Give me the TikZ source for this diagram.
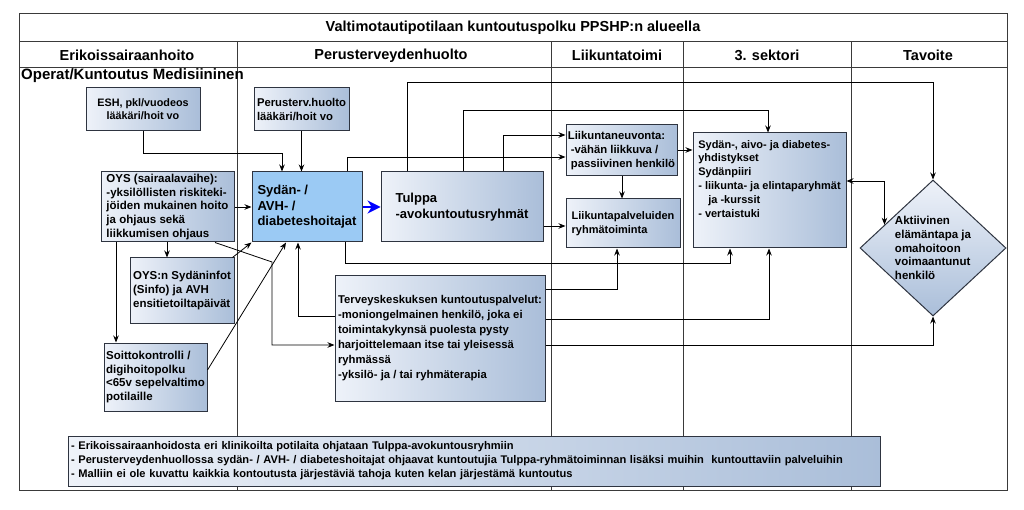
\documentclass[tikz,border=0pt]{standalone}
\usepackage{fontspec}
\setmainfont{Liberation Sans}
\usetikzlibrary{shapes.geometric,arrows.meta,calc}
\definecolor{bxL}{HTML}{EEF2F9}
\definecolor{bxR}{HTML}{AABED9}
\definecolor{sydc}{HTML}{9BCAF4}
\definecolor{framec}{HTML}{3A3A3A}
\definecolor{bord}{HTML}{2E3440}
\newcommand{\fs}[2]{\fontsize{#1}{#2}\selectfont}
\begin{document}
\begin{tikzpicture}[x=1pt,y=-1pt,
  box/.style={draw=bord, line width=1pt, left color=bxL, right color=bxR,
    font=\bfseries\fs{11.5}{13.8}, align=left, inner sep=0pt, anchor=center},
  hdr/.style={font=\bfseries\fs{14.5}{16}, inner sep=0pt},
  frm/.style={draw=framec, line width=1pt},
  arr/.style={draw=black, line width=0.8pt, -{Stealth[length=7pt,width=5.5pt]}},
  ln/.style={draw=black, line width=0.8pt}
]
\useasboundingbox (0,0) rectangle (1024,510);
% frame
\draw[frm] (19,14) rectangle (1007,490);
\draw[frm] (19,42) -- (1007,42);
\draw[frm] (19,68) -- (1007,68);
\foreach \xx in {237,551,683,851} \draw[frm] (\xx,42) -- (\xx,490);
% titles
\node[hdr] (title) at (513,28) {Valtimotautipotilaan kuntoutuspolku PPSHP:n alueella};
\node[hdr] (h1) at (127,55.5) {Erikoissairaanhoito};
\node[hdr] (h2) at (391,55.5) {Perusterveydenhuolto};
\node[hdr] (h3) at (617,55.5) {Liikuntatoimi};
\node[hdr] (h4) at (767,55.5) {3. sektori};
\node[hdr] (h5) at (928,55.5) {Tavoite};
\node[hdr, anchor=west, font=\bfseries\fs{15}{16}] (h6) at (21,76) {Operat/Kuntoutus Medisiininen};
% nodes
\node[box, align=center, font=\bfseries\fs{10.8}{13}, minimum width=114pt, minimum height=43pt] (esh) at (143,109.5) {ESH, pkl/vuodeos\\lääkäri/hoit vo};
\node[box, font=\bfseries\fs{11.3}{13.5}, minimum width=95pt, minimum height=43pt] (per) at (301.5,109.5) {Perusterv.huolto\\lääkäri/hoit vo};
\node[box, minimum width=133pt, minimum height=70pt] (oys) at (167.5,207) {OYS (sairaalavaihe):\\-yksilöllisten riskiteki-\\jöiden mukainen hoito\\ja ohjaus sekä\\liikkumisen ohjaus};
\node[box, shading=none, left color=sydc, right color=sydc, font=\bfseries\fs{13}{15.6}, minimum width=110pt, minimum height=70pt] (syd) at (307,207) {Sydän- /\\AVH- /\\diabeteshoitajat};
\node[box, font=\bfseries\fs{13}{15.6}, minimum width=162pt, minimum height=70pt] (tul) at (462,207) {Tulppa\\-avokuntoutusryhmät};
\node[box, font=\bfseries\fs{11.3}{13.8}, minimum width=111pt, minimum height=51pt] (lneu) at (621.5,150.5) {Liikuntaneuvonta:\\\hspace*{3pt}-vähän liikkuva /\\\hspace*{3pt}passiivinen henkilö};
\node[box, font=\bfseries\fs{11}{13.8}, minimum width=114pt, minimum height=49pt] (lpal) at (623,223.5) {Liikuntapalveluiden\\ryhmätoiminta};
\node[box, font=\bfseries\fs{11}{13.8}, minimum width=153pt, minimum height=115pt] (sek) at (769.5,190.5) {Sydän-, aivo- ja diabetes-\\yhdistykset\\Sydänpiiri\\- liikunta- ja elintaparyhmät\\\hspace*{10pt}ja -kurssit\\- vertaistuki\\[10pt]};
\node[box, shape=diamond, top color=bxL, bottom color=bxR, shape aspect=1.07, minimum width=146pt, minimum height=136pt] (dia) at (933,248) {Aktiivinen\\elämäntapa ja\\omahoitoon\\voimaantunut\\henkilö};
\node[box, minimum width=104pt, minimum height=65pt] (sinfo) at (182,290.5) {OYS:n Sydäninfot\\(Sinfo) ja AVH\\ensitietoiltapäivät};
\node[box, minimum width=103pt, minimum height=68pt] (soit) at (155.5,377) {Soittokontrolli /\\digihoitopolku\\<65v sepelvaltimo\\potilaille};
\node[box, font=\bfseries\fs{11.3}{15}, minimum width=210pt, minimum height=125pt] (ter) at (440,338.5) {Terveyskeskuksen kuntoutuspalvelut:\\-moniongelmainen henkilö, joka ei\\toimintakykynsä puolesta pysty\\harjoittelemaan itse tai yleisessä\\ryhmässä\\-yksilö- ja / tai ryhmäterapia};
\node[box, font=\bfseries\fs{11.1}{14}, inner xsep=3pt, text width=806pt, minimum height=50pt] (note) at (474,461) {- Erikoissairaanhoidosta eri klinikoilta potilaita ohjataan Tulppa-avokuntousryhmiin\\- Perusterveydenhuollossa sydän- / AVH- / diabeteshoitajat ohjaavat kuntoutujia Tulppa-ryhmätoiminnan lisäksi muihin\ \ kuntouttaviin palveluihin\\- Malliin ei ole kuvattu kaikkia kontoutusta järjestäviä tahoja kuten kelan järjestämä kuntoutus};
% connectors
\draw[arr] (esh.south) |- (282,153) -- (syd.north -| 282,0);
\draw[arr] (per.south) -- (syd.north -| per.south);
\draw[arr] (oys.east) -- (syd.west);
\draw[arr] (oys.south -| 167,0) -- (sinfo.north -| 167,0);
\draw[arr] (oys.south -| 116,0) -- (soit.north -| 116,0);
\draw[arr] ([xshift=-2pt]sinfo.north east) -- (syd.south west);
\draw[arr] (soit.east |- 0,370) -- (syd.south -| 286,0);
\draw[arr] (oys.south -| 215,0) -- (272,262) |- (ter.west |- 0,345);
\draw[arr] (ter.west |- 0,316) -| (syd.south -| 298,0);
\draw[draw=blue, line width=1.3pt, -{Stealth[length=13pt,width=13pt]}, blue] (syd.east) -- (tul.west);
\draw[arr] (syd.north -| 347,0) |- (lneu.west |- 0,157);
\draw[arr] (tul.north -| 503,0) |- (lneu.west |- 0,135);
\draw[arr] (tul.north -| 407,0) |- (933,82) -- (dia.north);
\draw[arr] (tul.north -| 463,0) |- (768,110) -- (sek.north -| 768,0);
\draw[arr] (tul.east |- 0,226) -- (lpal.west |- 0,226);
\draw[arr] (lneu.south -| 622,0) -- (lpal.north -| 622,0);
\draw[arr] (lneu.east |- 0,150) -- (sek.west |- 0,150);
\draw[arr] (syd.south -| 345,0) |- (730,263) -- (sek.south -| 730,0);
\draw[arr] (ter.east |- 0,289) -| (lpal.south -| 617,0);
\draw[arr] (ter.east |- 0,319) -| (sek.south -| 769,0);
\draw[arr] (ter.east |- 0,345) -| (dia.south);
\draw[ln, {Stealth[length=7pt,width=5.5pt]}-{Stealth[length=7pt,width=5.5pt]}] (sek.east |- 0,181) -| ($(dia.west)!0.34!(dia.north)$);
\end{tikzpicture}
\end{document}
